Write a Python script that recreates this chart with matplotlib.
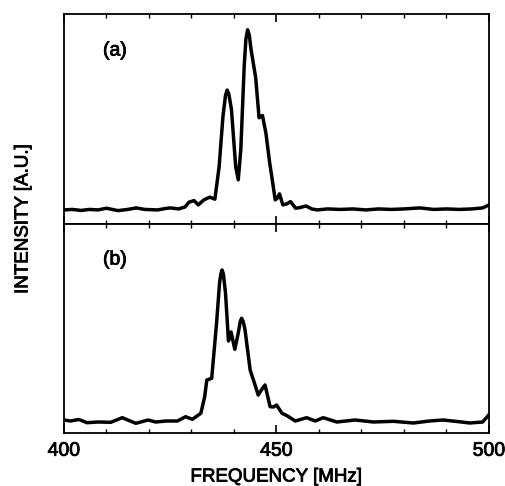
import matplotlib
matplotlib.use("Agg")
import matplotlib.pyplot as plt
import matplotlib.patheffects as pe
from matplotlib.ticker import MultipleLocator

plt.rcParams['font.family'] = ['Liberation Sans', 'DejaVu Sans']

# Panel (a) spectrum (frequency in MHz, intensity in arbitrary units)
freq_a = [400, 402, 404, 406, 408, 410, 412.7, 415, 417, 419, 422, 424, 425, 427,
          428.5, 429.4, 430.6, 431.6, 432.9, 434.3, 435.5, 436.5, 437.4, 438.0,
          438.4, 438.8, 439.4, 440.4, 441.0, 441.6, 442.4, 442.8, 443.2, 443.6,
          444.0, 445.1, 445.9, 446.7, 447.5, 448.4, 449.0, 449.7, 450.2, 450.7,
          451.5, 452.4, 453.3, 454.5, 455.7, 456.9, 458.3, 459.6, 462, 465, 468,
          471, 474, 477, 480, 483.7, 487, 490, 493, 496, 498.5, 500]
int_a = [14, 14.5, 13.5, 14.5, 14, 15.7, 13.3, 14.5, 16, 14.5, 14, 15.5, 16, 15,
         17, 21.7, 23.3, 19, 24, 26.7, 24.7, 57, 107, 128,
         133.3, 129, 114, 57, 44, 74, 157, 184, 193.3, 188,
         174, 145.7, 105.7, 108, 90.7, 60.7, 44, 24, 25.7, 30,
         19, 20, 22.3, 15.7, 16.5, 18, 15, 14, 15, 14.5, 15,
         14, 15, 14.5, 15, 16, 14.5, 15, 14.5, 15, 16, 19]

# Panel (b) spectrum
freq_b = [400, 401.5, 403.5, 405.4, 408, 411, 413.7, 416.9, 419.8, 421.6, 424,
          426.7, 428.6, 430.2, 432.2, 433.1, 433.6, 434.75, 435.9, 436.6, 436.9,
          437.2, 437.5, 438.0, 438.7, 439.3, 440.2, 441.0, 441.5, 441.8, 442.2,
          442.6, 443.8, 444.8, 445.7, 446.6, 447.3, 448.5, 449.3, 450.0, 451.3,
          452.6, 454.4, 457.1, 459.1, 461, 464.2, 468.5, 472.8, 477.5, 482.2, 486,
          489.2, 492.5, 495.5, 498.5, 500]
int_b = [13, 12, 13.5, 10.3, 11, 10.7, 15.3, 9.7, 13, 11, 12,
         12, 16.3, 13.7, 19.7, 36.3, 53, 54.7, 110, 150, 159,
         163, 159, 140, 92, 101, 83.7, 100, 112, 114.7, 111,
         103, 63, 50, 38, 44, 48, 26.3, 26, 28, 19.7,
         17, 12, 15.3, 12, 15.3, 11, 13, 11, 11.7, 10, 12,
         13, 11.5, 10, 11, 18.3]

x_ticks = [400, 450, 500]
x_tick_labels = ["400", "450", "500"]
panel_labels = ["(a)", "(b)"]

heavy = [pe.withStroke(linewidth=0.6, foreground='black')]

W, H = 506, 486
fig = plt.figure(figsize=(W / 100, H / 100), dpi=100)
left = 64 / W
width = (489 - 64) / W
ax_a = fig.add_axes([left, (H - 224) / H, width, (224 - 14) / H])
ax_b = fig.add_axes([left, (H - 433) / H, width, (433 - 224) / H])

for ax, f, v, lab, lab_y in [(ax_a, freq_a, int_a, panel_labels[0], 51),
                             (ax_b, freq_b, int_b, panel_labels[1], 260)]:
    ax.plot(f, v, color='black', lw=2.5, solid_joinstyle='round',
            solid_capstyle='round')
    ax.set_xlim(400, 500)
    ax.set_ylim(0, 209)
    ax.set_xticks(x_ticks)
    ax.xaxis.set_minor_locator(MultipleLocator(10))
    ax.tick_params(axis='x', which='major', direction='in', top=True,
                   length=6, width=1.2, pad=7, labelsize=14)
    ax.tick_params(axis='x', which='minor', direction='in', top=True,
                   length=3, width=1.0)
    ax.set_yticks([])
    for s in ax.spines.values():
        s.set_linewidth(1.3)
    fig.text(103 / W, 1 - lab_y / H, lab, fontsize=14, ha='left', va='center',
             path_effects=heavy)

ax_a.set_xticklabels([])
ax_b.set_xticklabels(x_tick_labels)
for t in ax_b.get_xticklabels():
    t.set_path_effects(heavy)

fig.text(276 / W, 1 - 477 / H, "FREQUENCY [MHz]", fontsize=13.5,
         ha='center', va='center', path_effects=heavy)
fig.text(23 / W, 1 - 219 / H, "INTENSITY [A.U.]", fontsize=13.5,
         ha='center', va='center', rotation=90, path_effects=heavy)

fig.savefig("out.png", dpi=100)
